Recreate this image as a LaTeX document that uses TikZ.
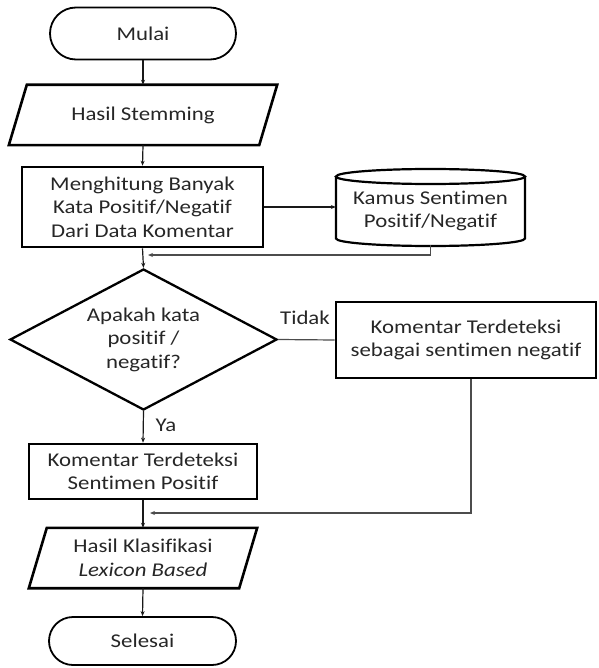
\documentclass[tikz,border=0pt]{standalone}
\usepackage{fontspec}
\setmainfont{Carlito}[FakeStretch=1.17, Ligatures={NoCommon}]
\usetikzlibrary{shapes.geometric,shapes.misc,arrows.meta,calc}
\begin{document}
\begin{tikzpicture}[x=1pt,y=-1pt,
  txt/.style={font=\fontsize{19.5pt}{23.5pt}\selectfont, align=center, text=black!85},
  term/.style={rounded rectangle, draw, line width=1.8pt, minimum width=186pt, minimum height=52pt, inner sep=0pt, txt},
  proc/.style={rectangle, draw, line width=2.6pt, inner sep=0pt, txt},
  iobox/.style={rectangle, inner sep=0pt, txt},
  iodraw/.style={line width=2.6pt, line join=miter},
  dec/.style={diamond, draw, line width=2.3pt, minimum width=267pt, minimum height=141pt, aspect=1.9, inner sep=0pt, txt},
  conn/.style={line width=1.2pt, draw=black!90, -{Stealth[length=5pt,width=4pt]}},
  connplain/.style={line width=1.2pt, draw=black!70},
  conngray/.style={line width=1.2pt, draw=black!70, -{Stealth[length=5pt,width=4pt]}},
  lbl/.style={txt, inner sep=0pt}
]
\useasboundingbox (0,0) rectangle (598,668);

% nodes
\node[term] (start) at (143,33.5) {Mulai};
\node[iobox, minimum width=268pt, minimum height=60pt] (stem) at (143,115) {Hasil Stemming};
\draw[iodraw] ($(stem.north west)+(18,0)$) -- (stem.north east) -- ($(stem.south east)+(-18,0)$) -- (stem.south west) -- cycle;
\node[proc, minimum width=241pt, minimum height=80pt] (count) at (142.5,207) {Menghitung Banyak\\Kata Positif/Negatif\\Dari Data Komentar};
\node[iobox, minimum width=189pt, minimum height=76pt] (kamus) at (430.5,211) {Kamus Sentimen\\Positif/Negatif};
\draw[line width=2.2pt] (336,176.5) -- (336,238.5) arc[start angle=180, end angle=0, x radius=94.5, y radius=7.5] -- (525,176.5);
\draw[line width=2.2pt] (430.5,176.5) ellipse[x radius=94.5, y radius=7.5];
\node[dec] (decision) at (143.5,339.5) {Apakah kata\\positif /\\negatif?};
\node[proc, minimum width=260pt, minimum height=76pt] (neg) at (466,340) {Komentar Terdeteksi\\sebagai sentimen negatif};
\node[proc, minimum width=228pt, minimum height=55pt] (pos) at (143,471.5) {Komentar Terdeteksi\\Sentimen Positif};
\node[iobox, minimum width=228pt, minimum height=60pt] (result) at (143,558) {Hasil Klasifikasi\\\textit{Lexicon Based}};
\draw[iodraw] ($(result.north west)+(18,0)$) -- (result.north east) -- ($(result.south east)+(-18,0)$) -- (result.south west) -- cycle;
\node[term, minimum width=187pt, minimum height=48pt] (end) at (142.5,641) {Selesai};

\coordinate (j1) at (148,255);
\coordinate (j2) at (150,513);

% connectors
\draw[conn] (start.south) -- (stem.north);
\draw[conn] (stem.south) -- (count.north);
\draw[conn] (count.east) -- (kamus.west |- count.east);
\draw[conngray] (kamus.south |- 0,245) -- (kamus.south |- j1) -- (j1);
\draw[conn] (count.south) -- (decision.north);
\draw[connplain] (decision.east) -- (neg.west);
\node[lbl] (tidak) at (305,318) {Tidak};
\draw[conn] (decision.south) -- (pos.north);
\node[lbl] (ya) at (166,425) {Ya};
\draw[conngray] ([xshift=5pt]neg.south) |- (j2);
\draw[conn] (pos.south) -- (result.north);
\draw[conn] (result.south) -- (end.north);
\end{tikzpicture}
\end{document}
